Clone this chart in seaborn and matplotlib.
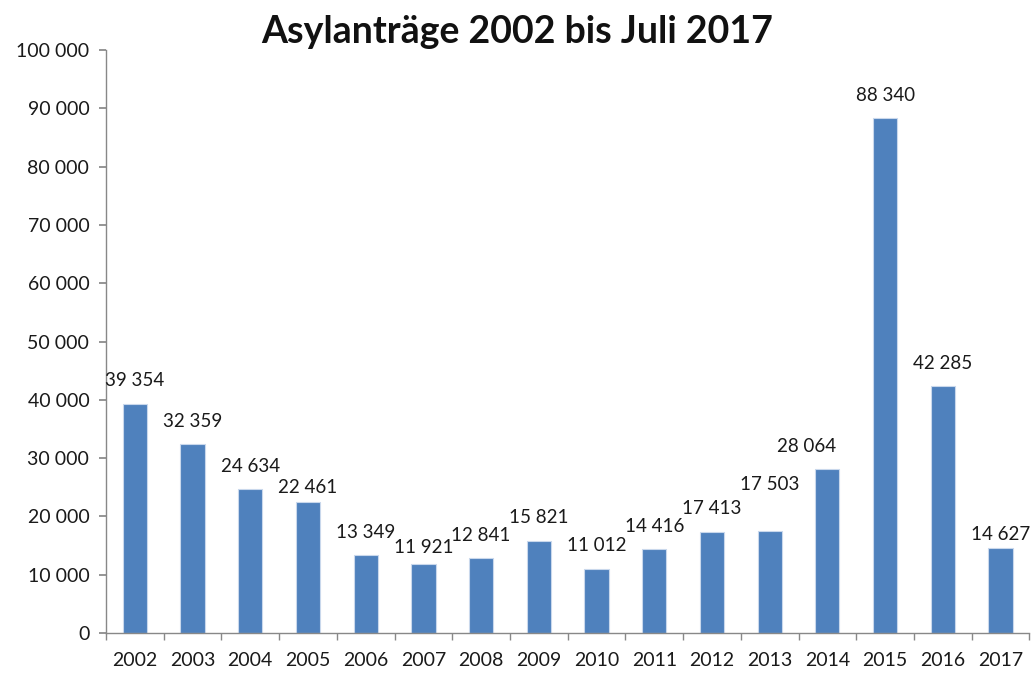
import matplotlib
matplotlib.use("Agg")
import matplotlib.pyplot as plt
import seaborn as sns
import pandas as pd
from matplotlib.ticker import FuncFormatter, MultipleLocator

years = ["2002", "2003", "2004", "2005", "2006", "2007", "2008", "2009",
         "2010", "2011", "2012", "2013", "2014", "2015", "2016", "2017"]
values = [39354, 32359, 24634, 22461, 13349, 11921, 12841, 15821,
          11012, 14416, 17413, 17503, 28064, 88340, 42285, 14627]
title = "Asylanträge 2002 bis Juli 2017"

# manual label nudges (points) as in the original chart
label_nudge = {"2005": (0, -6), "2007": (0, -5), "2013": (0, 17),
               "2014": (-15, 0), "2017": (0, -7)}

sns.set_theme(style="white")
plt.rcParams["font.family"] = ["Lato", "DejaVu Sans"]

df = pd.DataFrame({"year": years, "value": values})

fig = plt.figure(figsize=(10.34, 6.73), dpi=100)
ax = fig.add_axes([0.1025, 0.0594, 0.893, 0.8663])

sns.barplot(data=df, x="year", y="value", color="#4F81BD", saturation=1,
            width=0.42, ax=ax, edgecolor="#C9D8EC", linewidth=0.8)

def fmt(v):
    return f"{int(v):,}".replace(",", " ")

for i, (y, v) in enumerate(zip(years, values)):
    dx, dy = label_nudge.get(y, (0, 0))
    ax.annotate(fmt(v), xy=(i, v), xytext=(dx, 16.5 + dy), textcoords="offset points",
                ha="center", va="center", fontsize=13.5, color="#1a1a1a")

ax.set_ylim(0, 100000)
ax.set_xlim(-0.5, len(years) - 0.5)
ax.yaxis.set_major_locator(MultipleLocator(10000))
ax.yaxis.set_major_formatter(FuncFormatter(lambda v, p: fmt(v)))
ax.set_xlabel("")
ax.set_ylabel("")

for s in ["top", "right"]:
    ax.spines[s].set_visible(False)
for s in ["left", "bottom"]:
    ax.spines[s].set_color("#888888")
    ax.spines[s].set_linewidth(1)

ax.tick_params(axis="y", which="major", left=True, length=5, color="#888888",
               labelsize=14, labelcolor="#1a1a1a", pad=7)
ax.tick_params(axis="x", which="major", bottom=False, labelsize=14,
               labelcolor="#1a1a1a", pad=8)
ax.set_xticks(range(len(years)))
ax.set_xticks([i + 0.5 for i in range(-1, len(years))], minor=True)
ax.tick_params(axis="x", which="minor", bottom=True, length=5, color="#888888", direction="out")

fig.text(0.5, 0.978, title, ha="center", va="top", fontsize=27, fontweight="bold", color="#111111")

fig.savefig("out.png", dpi=100, facecolor="white")
